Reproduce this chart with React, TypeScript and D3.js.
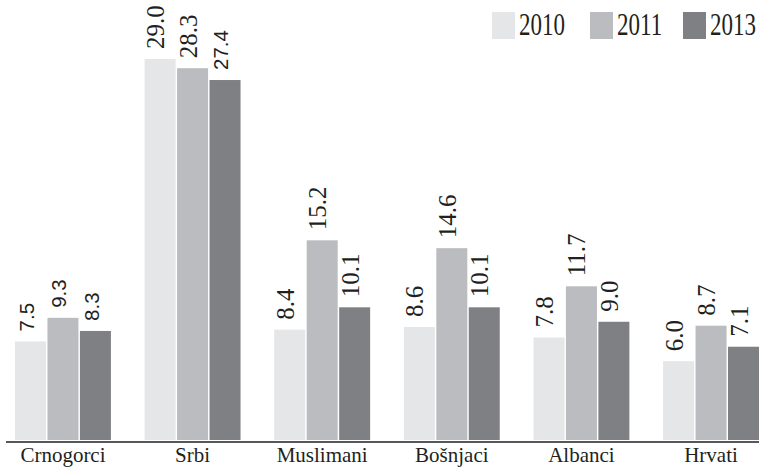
import React from "react";
import * as d3 from "d3";

const categories = ["Crnogorci", "Srbi", "Muslimani", "Bošnjaci", "Albanci", "Hrvati"];
const years = ["2010", "2011", "2013"];
const values2010 = [7.5, 29.0, 8.4, 8.6, 7.8, 6.0];
const values2011 = [9.3, 28.3, 15.2, 14.6, 11.7, 8.7];
const values2013 = [8.3, 27.4, 10.1, 10.1, 9.0, 7.1];
const seriesValues = [values2010, values2011, values2013];
const sansLabels = ["Crnogorci-2010", "Crnogorci-2011", "Crnogorci-2013", "Srbi-2013"];

const colors = ["#e5e6e8", "#bbbcc0", "#7f8084"];
const textColor = "#231f20";
const serif = "'Liberation Serif', 'Times New Roman', Times, serif";
const sans = "'Liberation Sans', Arial, Helvetica, sans-serif";

export default function App() {
  const W = 759, H = 467;
  const x0 = d3.scaleBand<string>().domain(categories).range([15, 759]).paddingInner(0.26).paddingOuter(0);
  const x1 = d3.scaleBand<string>().domain(years).range([0, x0.bandwidth()]).paddingInner(0.045);
  const y = d3.scaleLinear().domain([0, 29]).range([440, 59]);

  const legendX = [492, 590, 683];

  return (
    <svg width={W} height={H} style={{ position: "absolute", left: 0, top: 0 }}>
      {categories.map((c, ci) => (
        <g key={c} transform={`translate(${x0(c)},0)`}>
          {years.map((yr, si) => {
            const v = seriesValues[si][ci];
            const bx = x1(yr)!;
            const bw = x1.bandwidth();
            const top = y(v);
            const isSans = sansLabels.includes(`${c}-${yr}`);
            const fs = isSans ? 20.5 : 25;
            const cx = bx + bw / 2 + fs * 0.16;
            return (
              <g key={yr}>
                <rect x={bx} y={top} width={bw} height={y(0) - top} fill={colors[si]} />
                <text
                  transform={`translate(${cx},${top - 10}) rotate(-90)`}
                  fontFamily={isSans ? sans : serif}
                  fontSize={fs}
                  fill={textColor}
                  textAnchor="start"
                >
                  {v.toFixed(1)}
                </text>
              </g>
            );
          })}
          <text
            x={x0.bandwidth() / 2}
            y={462}
            textAnchor="middle"
            fontFamily={serif}
            fontSize={21}
            fill={textColor}
          >
            {c}
          </text>
        </g>
      ))}
      <line x1={6} x2={759} y1={442} y2={442} stroke="#58585a" strokeWidth={2} />
      {years.map((yr, i) => (
        <g key={yr}>
          <rect x={legendX[i]} y={12} width={23} height={27} fill={colors[i]} />
          <text
            transform={`translate(${legendX[i] + 27},35) scale(1,1.35)`}
            fontFamily={serif}
            fontSize={23}
            fill={textColor}
          >
            {yr}
          </text>
        </g>
      ))}
    </svg>
  );
}
